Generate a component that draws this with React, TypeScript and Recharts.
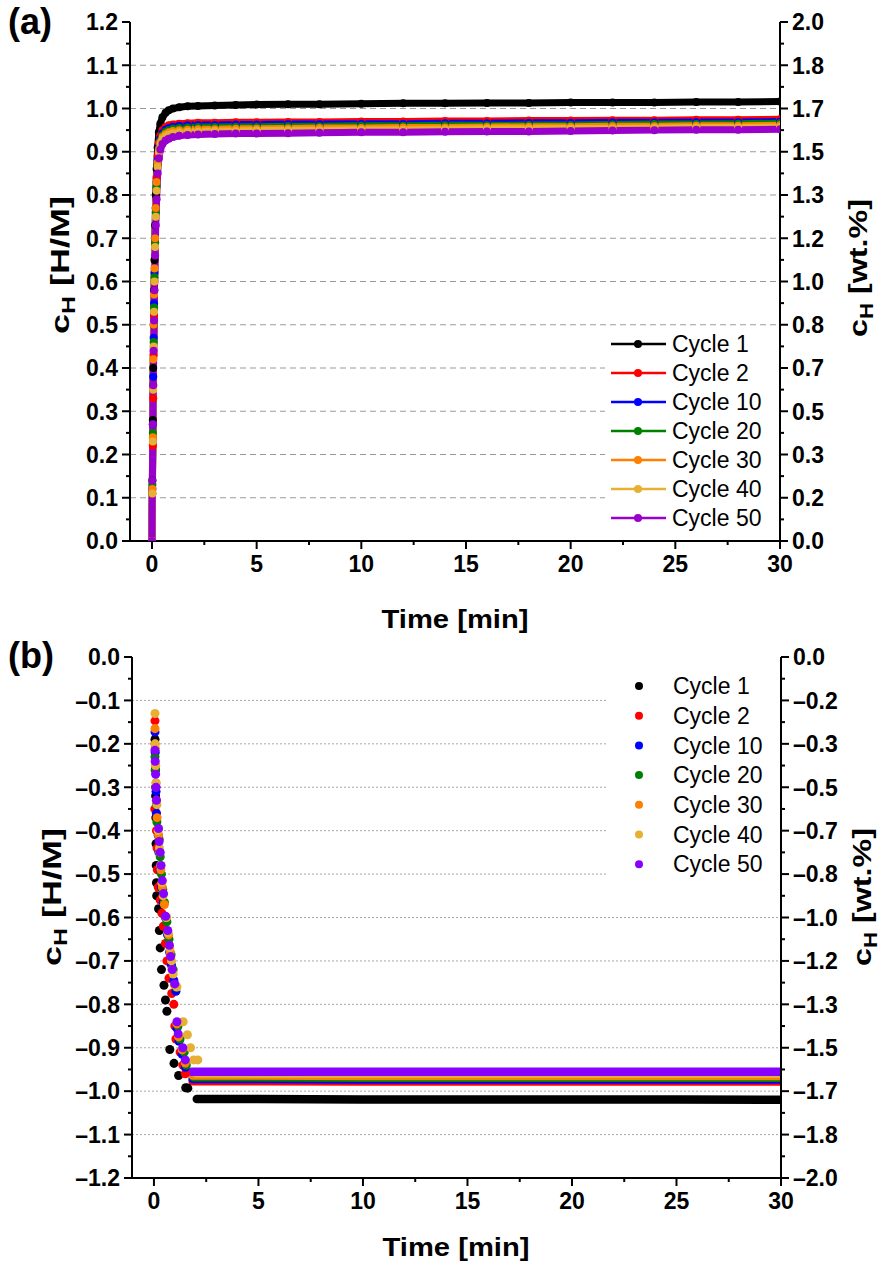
import React from "react"
import { ComposedChart, Line, Scatter, XAxis, YAxis, ReferenceLine, Legend } from "recharts"

const FONT = '"Liberation Sans", Arial, sans-serif'

const cycles = ["Cycle 1", "Cycle 2", "Cycle 10", "Cycle 20", "Cycle 30", "Cycle 40", "Cycle 50"]
const absColors = ["#000000", "#ff0000", "#0000ff", "#008000", "#ff7f00", "#e6b035", "#9900cc"]
const desColors = ["#000000", "#ff0000", "#0000ff", "#008000", "#ff7f00", "#e6b035", "#8800ff"]

const timeTicks = [0, 5, 10, 15, 20, 25, 30]
const absYTicks = [0, 0.1, 0.2, 0.3, 0.4, 0.5, 0.6, 0.7, 0.8, 0.9, 1.0, 1.1, 1.2]
const desYTicks = [-1.2, -1.1, -1.0, -0.9, -0.8, -0.7, -0.6, -0.5, -0.4, -0.3, -0.2, -0.1, 0]

// (a) absorption, c_H [H/M] vs time [min]
const absTime = [0, 0.02, 0.04, 0.06, 0.08, 0.1, 0.12, 0.15, 0.18, 0.22, 0.27, 0.33, 0.4, 0.5, 0.65, 0.8, 1, 1.3, 1.7, 2.2, 3, 4, 5, 6.5, 8, 10, 12, 14, 16, 18, 20, 22, 24, 26, 28, 30]
const absCycle1 = [0, 0.14, 0.28, 0.4, 0.5, 0.58, 0.65, 0.73, 0.8, 0.86, 0.91, 0.945, 0.965, 0.98, 0.99, 0.996, 1.0, 1.003, 1.005, 1.006, 1.007, 1.008, 1.009, 1.01, 1.01, 1.011, 1.012, 1.012, 1.013, 1.013, 1.014, 1.014, 1.014, 1.015, 1.015, 1.016]
const absCycle2 = [0, 0.11, 0.22, 0.33, 0.43, 0.52, 0.6, 0.69, 0.77, 0.84, 0.89, 0.92, 0.938, 0.95, 0.957, 0.961, 0.963, 0.965, 0.966, 0.967, 0.967, 0.968, 0.968, 0.969, 0.969, 0.97, 0.97, 0.971, 0.971, 0.972, 0.972, 0.973, 0.973, 0.974, 0.974, 0.975]
const absCycle10 = [0, 0.12, 0.27, 0.38, 0.47, 0.55, 0.62, 0.7, 0.77, 0.83, 0.88, 0.91, 0.93, 0.943, 0.951, 0.955, 0.958, 0.96, 0.961, 0.962, 0.962, 0.963, 0.963, 0.964, 0.964, 0.965, 0.965, 0.966, 0.966, 0.967, 0.967, 0.968, 0.968, 0.969, 0.969, 0.97]
const absCycle20 = [0, 0.13, 0.25, 0.36, 0.46, 0.54, 0.61, 0.69, 0.76, 0.82, 0.87, 0.905, 0.925, 0.938, 0.946, 0.95, 0.953, 0.955, 0.956, 0.957, 0.957, 0.958, 0.958, 0.959, 0.959, 0.96, 0.96, 0.961, 0.961, 0.962, 0.962, 0.963, 0.964, 0.964, 0.965, 0.966]
const absCycle30 = [0, 0.12, 0.24, 0.42, 0.5, 0.57, 0.63, 0.7, 0.77, 0.83, 0.875, 0.905, 0.922, 0.934, 0.941, 0.945, 0.948, 0.95, 0.951, 0.952, 0.952, 0.953, 0.953, 0.954, 0.955, 0.955, 0.956, 0.956, 0.957, 0.958, 0.958, 0.959, 0.959, 0.96, 0.96, 0.961]
const absCycle40 = [0, 0.11, 0.23, 0.35, 0.45, 0.53, 0.6, 0.68, 0.75, 0.81, 0.865, 0.898, 0.917, 0.929, 0.936, 0.94, 0.943, 0.945, 0.946, 0.947, 0.948, 0.948, 0.949, 0.95, 0.95, 0.951, 0.951, 0.952, 0.953, 0.953, 0.954, 0.954, 0.955, 0.956, 0.956, 0.957]
const absCycle50 = [0, 0.14, 0.27, 0.36, 0.44, 0.51, 0.58, 0.66, 0.73, 0.79, 0.85, 0.885, 0.905, 0.918, 0.926, 0.93, 0.934, 0.937, 0.939, 0.94, 0.941, 0.942, 0.942, 0.943, 0.944, 0.945, 0.945, 0.946, 0.947, 0.947, 0.948, 0.949, 0.95, 0.951, 0.951, 0.952]
const absValues = [absCycle1, absCycle2, absCycle10, absCycle20, absCycle30, absCycle40, absCycle50]

// (b) desorption: [time, c_H] points of the fast drop
const desCycle1 = [[0.05, -0.19], [0.06, -0.26], [0.08, -0.32], [0.09, -0.37], [0.1, -0.43], [0.11, -0.48], [0.12, -0.52], [0.13, -0.55], [0.22, -0.58], [0.26, -0.63], [0.3, -0.67], [0.36, -0.72], [0.48, -0.756], [0.55, -0.79], [0.62, -0.816], [0.76, -0.904], [0.96, -0.936], [1.18, -0.964], [1.52, -0.992], [1.62, -0.993]]
const desCycle2 = [[0.05, -0.147], [0.05, -0.2], [0.07, -0.25], [0.08, -0.3], [0.04, -0.35], [0.12, -0.4], [0.15, -0.44], [0.16, -0.49], [0.2, -0.53], [0.3, -0.56], [0.38, -0.59], [0.45, -0.62], [0.55, -0.66], [0.62, -0.7], [0.72, -0.74], [0.85, -0.775], [0.95, -0.8], [1.0, -0.85], [1.05, -0.88], [1.25, -0.91], [1.38, -0.94], [1.5, -0.96]]
const desCycle10 = [[0.05, -0.173], [0.06, -0.22], [0.08, -0.26], [0.1, -0.31], [0.12, -0.36], [0.2, -0.41], [0.24, -0.45], [0.3, -0.49], [0.36, -0.53], [0.45, -0.565], [0.55, -0.6], [0.65, -0.64], [0.75, -0.68], [0.84, -0.71], [0.95, -0.745], [1.05, -0.77], [1.1, -0.855], [1.2, -0.885], [1.35, -0.915], [1.5, -0.945]]
const desCycle20 = [[0.05, -0.23], [0.07, -0.26], [0.09, -0.3], [0.12, -0.34], [0.14, -0.38], [0.25, -0.42], [0.3, -0.46], [0.36, -0.5], [0.42, -0.535], [0.5, -0.565], [0.62, -0.61], [0.72, -0.65], [0.82, -0.685], [0.92, -0.72], [1.05, -0.76], [1.15, -0.85], [1.25, -0.88], [1.45, -0.91], [1.55, -0.94]]
const desCycle30 = [[0.05, -0.165], [0.06, -0.21], [0.08, -0.25], [0.1, -0.29], [0.12, -0.33], [0.15, -0.37], [0.22, -0.41], [0.28, -0.45], [0.33, -0.49], [0.4, -0.53], [0.5, -0.57], [0.6, -0.6], [0.7, -0.64], [0.78, -0.68], [0.86, -0.72], [0.98, -0.755], [1.1, -0.845], [1.18, -0.875], [1.35, -0.905], [1.5, -0.935]]
const desCycle40 = [[0.05, -0.13], [0.06, -0.2], [0.08, -0.25], [0.1, -0.29], [0.14, -0.34], [0.2, -0.4], [0.26, -0.44], [0.32, -0.48], [0.38, -0.52], [0.44, -0.55], [0.58, -0.6], [0.68, -0.635], [0.76, -0.67], [0.84, -0.7], [0.92, -0.73], [1.1, -0.76], [1.4, -0.84], [1.6, -0.87], [1.75, -0.9], [1.9, -0.928], [2.1, -0.928]]
const desCycle50 = [[0.05, -0.215], [0.06, -0.24], [0.08, -0.27], [0.1, -0.3], [0.12, -0.33], [0.22, -0.395], [0.25, -0.425], [0.3, -0.45], [0.34, -0.48], [0.4, -0.515], [0.46, -0.545], [0.56, -0.597], [0.66, -0.63], [0.74, -0.664], [0.8, -0.69], [0.88, -0.72], [1.0, -0.753], [1.1, -0.84], [1.16, -0.868], [1.38, -0.9], [1.5, -0.928]]
const desDrops = [desCycle1, desCycle2, desCycle10, desCycle20, desCycle30, desCycle40, desCycle50]

// (b) desorption plateau, sampled at [start, 5, 10, 15, 20, 25, 30] min
const desPlateauStart = [2.05, 1.85, 1.85, 1.9, 1.85, 2.0, 1.8]
const desPlateauTime = [5, 10, 15, 20, 25, 30]
const desPlateau = [
  [-1.018, -1.018, -1.019, -1.019, -1.019, -1.019, -1.02],
  [-0.977, -0.977, -0.978, -0.978, -0.978, -0.978, -0.978],
  [-0.972, -0.972, -0.973, -0.973, -0.973, -0.973, -0.973],
  [-0.968, -0.968, -0.969, -0.969, -0.969, -0.969, -0.969],
  [-0.964, -0.964, -0.965, -0.965, -0.965, -0.965, -0.965],
  [-0.959, -0.96, -0.96, -0.96, -0.96, -0.96, -0.96],
  [-0.955, -0.955, -0.955, -0.955, -0.955, -0.955, -0.955],
]

const absSeries = cycles.map((name, i) => ({
  name,
  color: absColors[i],
  data: absTime.map((t, j) => ({ t, v: absValues[i][j] })),
}))

const desSeries = cycles.map((name, i) => ({
  name,
  color: desColors[i],
  drop: desDrops[i].map(([t, v]) => ({ t, v })),
  plateau: [desPlateauStart[i], ...desPlateauTime].map((t, j) => ({ t, v: desPlateau[i][j] })),
}))

const minorOf = (arr: number[]) => arr.slice(0, -1).map((v, i) => (v + arr[i + 1]) / 2)
const withMinor = (arr: number[]) => [...arr, ...minorOf(arr)].sort((a, b) => a - b)
const isMajor = (arr: number[], v: number) => arr.some((m) => Math.abs(m - v) < 1e-6)
const fmtLeft = (v: number) => v.toFixed(1).replace("-", "–")
const fmtRight = (v: number) => ((v * 2) / 1.2).toFixed(1).replace("-", "–")

const tickText = { fontFamily: FONT, fontWeight: 700, fontSize: 23, fill: "#000" }

const yTick = (side: "left" | "right", majors: number[], fmt: (v: number) => string) => (p: any) => {
  const major = isMajor(majors, p.payload.value)
  const dir = side === "left" ? -1 : 1
  return (
    <g>
      <line x1={p.x} x2={p.x + dir * (major ? 8 : 4)} y1={p.y} y2={p.y} stroke="#000" strokeWidth={2} />
      {major && (
        <text x={p.x + dir * 12} y={p.y} dy="0.36em" textAnchor={side === "left" ? "end" : "start"} {...tickText}>
          {fmt(p.payload.value)}
        </text>
      )}
    </g>
  )
}

const xTick = (top: boolean) => (p: any) => {
  const major = isMajor(timeTicks, p.payload.value)
  return (
    <g>
      <line x1={p.x} x2={p.x} y1={p.y} y2={p.y + (major ? 8 : 4)} stroke="#000" strokeWidth={2} />
      {!top && major && (
        <text x={p.x} y={p.y + 31} textAnchor="middle" {...tickText}>
          {p.payload.value}
        </text>
      )}
    </g>
  )
}

const titleText = { fontFamily: FONT, fontWeight: 700, fontSize: 26, fill: "#000" }

const YTitle = ({ cx, cy, unit }: { cx: number; cy: number; unit: string }) => (
  <text x={cx} y={cy + 9} transform={`rotate(-90 ${cx} ${cy})`} textAnchor="middle" textLength={138} lengthAdjust="spacingAndGlyphs" {...titleText}>
    c<tspan fontSize={18} dy={6}>H</tspan>
    <tspan dy={-6}>{` [${unit}]`}</tspan>
  </text>
)

const XTitle = ({ cx, cy }: { cx: number; cy: number }) => (
  <text x={cx} y={cy + 9} textAnchor="middle" textLength={147} lengthAdjust="spacingAndGlyphs" {...titleText}>
    Time [min]
  </text>
)

const LegendBox = ({ colors, withLine, step }: { colors: string[]; withLine: boolean; step: number }) => (
  <svg width={172} height={14 + step * 6 + 16} style={{ display: "block", background: "#fff" }}>
    {cycles.map((name, i) => {
      const y = 14 + i * step
      return (
        <g key={name}>
          {withLine && <line x1={6} x2={61} y1={y} y2={y} stroke={colors[i]} strokeWidth={2.5} />}
          <circle cx={33} cy={y} r={4} fill={colors[i]} />
          <text x={67} y={y} dy="0.36em" fontFamily={FONT} fontSize={23} fill="#000">
            {name}
          </text>
        </g>
      )
    })}
  </svg>
)

const PanelLetter = ({ top, text }: { top: number; text: string }) => (
  <div style={{ position: "absolute", left: 8, top, fontFamily: FONT, fontWeight: 700, fontSize: 36, lineHeight: "40px" }}>{text}</div>
)

const xDomain: [number, number] = [-1.05, 30]

export default function App() {
  return (
    <div style={{ position: "absolute", left: 0, top: 0, width: 882, height: 1274, background: "#fff" }}>
      <div style={{ position: "absolute", left: 0, top: 0 }}>
        <ComposedChart width={882} height={640} margin={{ top: 22, right: 0, bottom: 0, left: 0 }}>
          <XAxis
            xAxisId={0}
            type="number"
            dataKey="t"
            domain={xDomain}
            ticks={withMinor(timeTicks)}
            interval={0}
            height={99}
            tickSize={0}
            tickMargin={0}
            axisLine={{ stroke: "#000", strokeWidth: 2 }}
            tickLine={false}
            tick={xTick(false)}
            allowDataOverflow
            label={() => <XTitle cx={455} cy={619} />}
          />
          <XAxis xAxisId="top" orientation="top" type="number" domain={xDomain} ticks={withMinor(timeTicks)} interval={0} height={0} tickSize={0} tickMargin={0} axisLine={{ stroke: "#000", strokeWidth: 2 }} tickLine={false} tick={xTick(true)} allowDataOverflow />
          <YAxis
            yAxisId={0}
            type="number"
            dataKey="v"
            domain={[0, 1.2]}
            ticks={withMinor(absYTicks)}
            interval={0}
            width={130}
            tickSize={0}
            tickMargin={0}
            axisLine={{ stroke: "#000", strokeWidth: 2 }}
            tickLine={false}
            tick={yTick("left", absYTicks, fmtLeft)}
            allowDataOverflow
            label={() => <YTitle cx={60} cy={265} unit="H/M" />}
          />
          <YAxis
            yAxisId="right"
            orientation="right"
            type="number"
            domain={[0, 1.2]}
            ticks={withMinor(absYTicks)}
            interval={0}
            width={102}
            tickSize={0}
            tickMargin={0}
            axisLine={{ stroke: "#000", strokeWidth: 2 }}
            tickLine={false}
            tick={yTick("right", absYTicks, fmtRight)}
            allowDataOverflow
            label={() => <YTitle cx={858} cy={268} unit="wt.%" />}
          />
          {absYTicks.slice(1, -1).map((v) => (
            <ReferenceLine key={v} y={v} stroke="#9a9a9a" strokeDasharray="6 4" strokeWidth={1} />
          ))}
          {absSeries.map((s) => (
            <Line
              key={s.name}
              data={s.data}
              dataKey="v"
              name={s.name}
              type="linear"
              stroke={s.color}
              strokeWidth={7}
              dot={{ r: 4, fill: s.color, stroke: s.color, strokeWidth: 0 }}
              isAnimationActive={false}
            />
          ))}
          <Legend
            layout="vertical"
            align="center"
            verticalAlign="middle"
            wrapperStyle={{ left: 605, top: 330, width: 172 }}
            content={() => <LegendBox colors={absColors} withLine step={29} />}
          />
        </ComposedChart>
      </div>
      <div style={{ position: "absolute", left: 0, top: 640 }}>
        <ComposedChart width={882} height={634} margin={{ top: 17, right: 0, bottom: 0, left: 0 }}>
          <XAxis
            xAxisId={0}
            type="number"
            dataKey="t"
            domain={xDomain}
            ticks={withMinor(timeTicks)}
            interval={0}
            height={96}
            tickSize={0}
            tickMargin={0}
            axisLine={{ stroke: "#000", strokeWidth: 2 }}
            tickLine={false}
            tick={xTick(false)}
            allowDataOverflow
            label={() => <XTitle cx={456} cy={607} />}
          />
          <XAxis xAxisId="top" orientation="top" type="number" domain={xDomain} ticks={withMinor(timeTicks)} interval={0} height={0} tickSize={0} tickMargin={0} axisLine={{ stroke: "#000", strokeWidth: 2 }} tickLine={false} tick={xTick(true)} allowDataOverflow />
          <YAxis
            yAxisId={0}
            type="number"
            dataKey="v"
            domain={[-1.2, 0]}
            ticks={withMinor(desYTicks)}
            interval={0}
            width={132}
            tickSize={0}
            tickMargin={0}
            axisLine={{ stroke: "#000", strokeWidth: 2 }}
            tickLine={false}
            tick={yTick("left", desYTicks, fmtLeft)}
            allowDataOverflow
            label={() => <YTitle cx={52} cy={257} unit="H/M" />}
          />
          <YAxis
            yAxisId="right"
            orientation="right"
            type="number"
            domain={[-1.2, 0]}
            ticks={withMinor(desYTicks)}
            interval={0}
            width={101}
            tickSize={0}
            tickMargin={0}
            axisLine={{ stroke: "#000", strokeWidth: 2 }}
            tickLine={false}
            tick={yTick("right", desYTicks, fmtRight)}
            allowDataOverflow
            label={() => <YTitle cx={862} cy={257} unit="wt.%" />}
          />
          {desYTicks.slice(1, -1).map((v) => (
            <ReferenceLine key={v} y={v} stroke="#a8a8a8" strokeDasharray="2 2" strokeWidth={1} />
          ))}
          {desSeries.map((s) => (
            <Line
              key={`p-${s.name}`}
              data={s.plateau}
              dataKey="v"
              name={s.name}
              type="linear"
              stroke={s.color}
              strokeWidth={8.5}
              strokeLinecap="round"
              dot={false}
              legendType="none"
              isAnimationActive={false}
            />
          ))}
          {desSeries.map((s) => (
            <Scatter key={`d-${s.name}`} data={s.drop} dataKey="v" name={s.name} fill={s.color} isAnimationActive={false} />
          ))}
          <Legend
            layout="vertical"
            align="center"
            verticalAlign="middle"
            wrapperStyle={{ left: 606, top: 32, width: 172 }}
            content={() => <LegendBox colors={desColors} withLine={false} step={29.7} />}
          />
        </ComposedChart>
      </div>
      <PanelLetter top={2} text="(a)" />
      <PanelLetter top={636} text="(b)" />
    </div>
  )
}
